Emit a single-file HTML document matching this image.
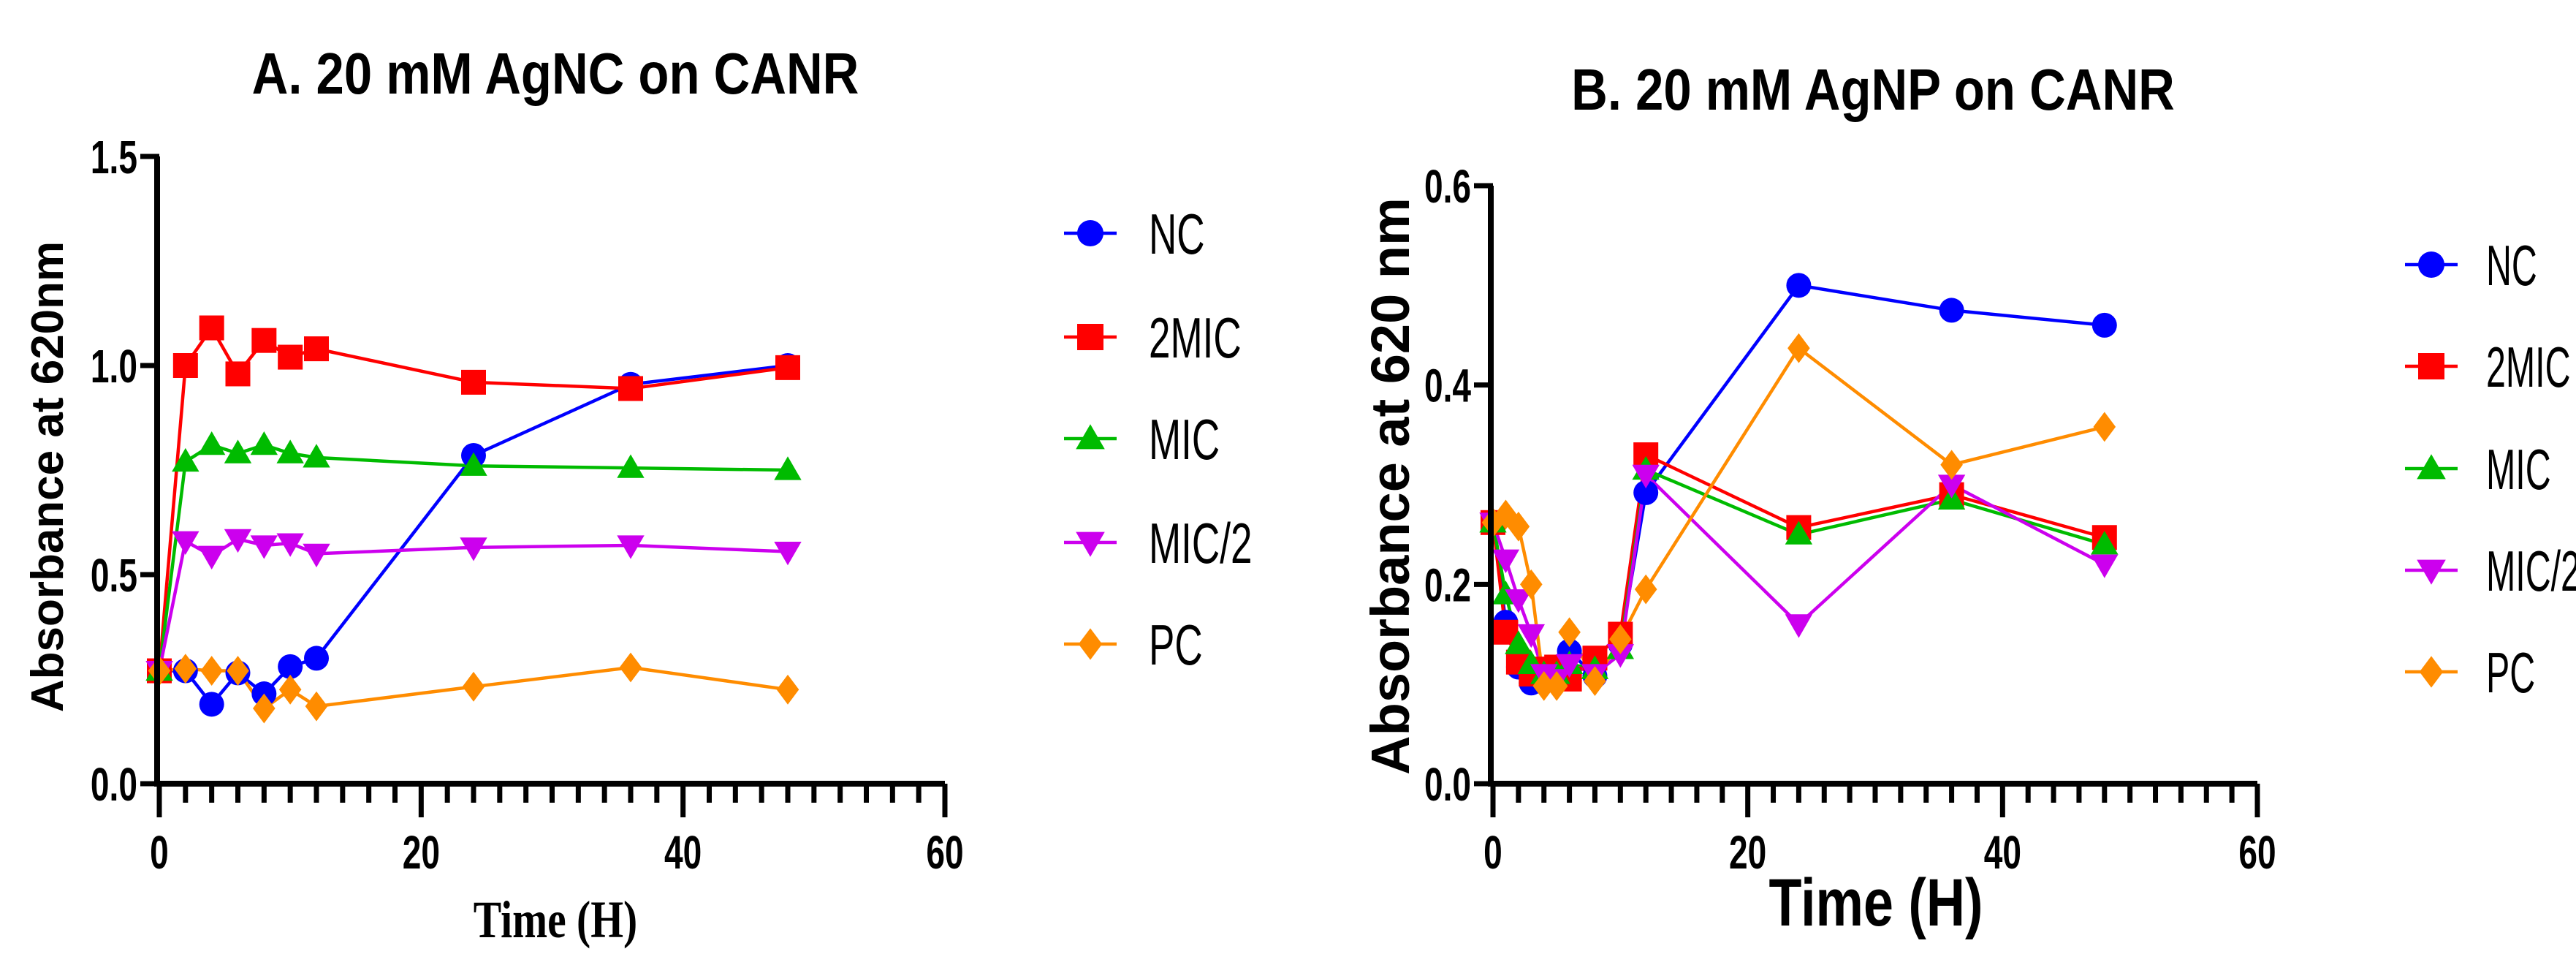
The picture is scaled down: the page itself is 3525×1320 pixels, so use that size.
<!DOCTYPE html>
<html><head><meta charset="utf-8"><style>
html,body{margin:0;padding:0;background:#fff;}
svg{display:block;}
</style></head><body>
<svg id="chart" width="3525" height="1320" viewBox="0 0 3525 1320" xmlns="http://www.w3.org/2000/svg" font-family="Liberation Sans, Arial, sans-serif">
<rect width="3525" height="1320" fill="#fff"/>
</svg>
<script>
const seriesNames = ["NC","2MIC","MIC","MIC/2","PC"];
const colors = ["#0000ff","#ff0000","#00bb00","#cc00ee","#ff8c00"];
const shapes = ["circle","square","triangle","invtri","diamond"];
const timesA = [0,2,4,6,8,10,12,24,36,48];
const ncA = [0.27,0.27,0.19,0.265,0.215,0.28,0.30,0.785,0.955,1.0];
const mic2xA = [0.27,1.0,1.09,0.98,1.06,1.02,1.04,0.96,0.945,0.995];
const micA = [0.27,0.77,0.81,0.79,0.81,0.79,0.78,0.76,0.755,0.75];
const micHalfA = [0.27,0.58,0.545,0.585,0.57,0.575,0.55,0.565,0.57,0.555];
const pcA = [0.27,0.275,0.27,0.27,0.18,0.225,0.185,0.232,0.278,0.225];
const timesB = [0,1,2,3,4,5,6,8,10,12,24,36,48];
const ncB = [0.262,0.162,0.117,0.101,0.105,0.104,0.133,0.108,0.14,0.292,0.5,0.475,0.46];
const mic2xB = [0.262,0.152,0.122,0.11,0.115,0.117,0.105,0.126,0.15,0.33,0.257,0.29,0.247];
const micB = [0.262,0.19,0.14,0.12,0.11,0.11,0.12,0.115,0.135,0.315,0.25,0.285,0.24];
const micHalfB = [0.262,0.225,0.185,0.15,0.11,0.105,0.12,0.11,0.13,0.31,0.16,0.3,0.22];
const pcB = [0.262,0.27,0.258,0.2,0.098,0.098,0.152,0.103,0.145,0.195,0.437,0.32,0.358];
const xTicks = [0,20,40,60];
const yTicksA = ["0.0","0.5","1.0","1.5"];
const yTicksB = ["0.0","0.2","0.4","0.6"];

const NS="http://www.w3.org/2000/svg";
const svg=document.getElementById('chart');
function el(tag,attrs,parent){const e=document.createElementNS(NS,tag);for(const k in attrs)e.setAttribute(k,attrs[k]);(parent||svg).appendChild(e);return e;}
function sq(x,s){return `translate(${x},0) scale(${s},1) translate(${-x},0)`;}

function marker(g,shape,x,y,r,color){
  let m;
  if(shape==="circle") m=el('circle',{cx:x,cy:y,r:r,fill:color},g);
  else if(shape==="square") m=el('rect',{x:x-r,y:y-r,width:2*r,height:2*r,fill:color},g);
  else if(shape==="triangle") m=el('polygon',{points:`${x},${y-r*1.1} ${x-r*1.1},${y+r*0.8} ${x+r*1.1},${y+r*0.8}`,fill:color},g);
  else if(shape==="invtri") m=el('polygon',{points:`${x},${y+r*1.1} ${x-r*1.1},${y-r*0.8} ${x+r*1.1},${y-r*0.8}`,fill:color},g);
  else m=el('polygon',{points:`${x},${y-r*1.2} ${x+r*0.9},${y} ${x},${y+r*1.2} ${x-r*0.9},${y}`,fill:color},g);
  return m;
}

function drawChart(cfg){
  const g=el('g',{});
  
  
  const sx=v=>cfg.x0+(v-0)/60*(cfg.x1-cfg.x0);
  const sy=v=>cfg.y0-(v/cfg.ymax)*(cfg.y0-cfg.y1);
  const t=el('text',{x:cfg.titleX,y:cfg.titleY,'text-anchor':'middle','font-size':80,'font-weight':'bold',transform:sq(cfg.titleX,0.86)},g);
  t.textContent=cfg.title;
  
  
  cfg.series.forEach((vals,i)=>{
    const pts=vals.map((v,j)=>`${sx(cfg.times[j])},${sy(v)}`).join(' ');
    const pl=el('polyline',{points:pts,fill:'none',stroke:colors[i],'stroke-width':4.5},g);
    
    
  });
  cfg.series.forEach((vals,i)=>{
    vals.forEach((v,j)=>{
      const m=marker(g,shapes[i],sx(cfg.times[j]),sy(v),17,colors[i]);
      
      
    });
  });
  const ax=el('path',{d:`M${cfg.x0-3},${cfg.y1} V${cfg.y0} H${cfg.x1}`,fill:'none',stroke:'#000','stroke-width':8},g);
  
  
  for(let v=0;v<=60;v+=2){
    const major=v%20===0;
    el('line',{x1:sx(v),x2:sx(v),y1:cfg.y0,y2:cfg.y0+(major?46:26),stroke:'#000','stroke-width':7},g);
  }
  xTicks.forEach(v=>{
    const tx=el('text',{x:sx(v),y:cfg.y0+116,'text-anchor':'middle','font-size':64,'font-weight':'bold',transform:sq(sx(v),0.72)},g);
    tx.textContent=v;
    
    
  });
  cfg.yTicks.forEach((lab,k)=>{
    const v=parseFloat(lab);
    el('line',{x1:cfg.x0-26,x2:cfg.x0,y1:sy(v),y2:sy(v),stroke:'#000','stroke-width':7},g);
    const tx=el('text',{x:cfg.x0-30,y:sy(v)+23,'text-anchor':'end','font-size':64,'font-weight':'bold',transform:sq(cfg.x0-30,0.72)},g);
    tx.textContent=lab;
    
    
  });
  const yt=el('text',{x:0,y:0,'text-anchor':'middle','font-size':cfg.yTitleSize,'font-weight':'bold',transform:`translate(${cfg.yTitleX},${cfg.yTitleY}) rotate(-90)`},g);
  yt.textContent=cfg.yTitle;
  
  
  const xt=el('text',{x:cfg.xTitleX,y:cfg.xTitleY,'text-anchor':'middle','font-size':cfg.xTitleSize,'font-weight':'bold','font-family':cfg.xTitleFont,transform:sq(cfg.xTitleX,cfg.xTitleScale)},g);
  xt.textContent="Time (H)";
  
  
  seriesNames.forEach((n,i)=>{
    const lg=el('g',{},g);
    
    
    const y=cfg.legY[i];
    el('line',{x1:cfg.legX-36,x2:cfg.legX+36,y1:y,y2:y,stroke:colors[i],'stroke-width':4.5},lg);
    marker(lg,shapes[i],cfg.legX,y,18,colors[i]);
    const lt=el('text',{x:cfg.legX+cfg.legGap,y:y+28,'font-size':78,transform:sq(cfg.legX+cfg.legGap,cfg.legScale)},lg);
    lt.textContent=n;
  });
}

drawChart({name:'chart-a',title:'A. 20 mM AgNC on CANR',titleX:760,titleY:128,
  x0:218,x1:1293,y0:1072,y1:214,ymax:1.5,times:timesA,series:[ncA,mic2xA,micA,micHalfA,pcA],yTicks:yTicksA,
  yTitle:'Absorbance at 620nm',yTitleX:86,yTitleY:652,yTitleSize:62,
  xTitleX:760,xTitleY:1282,xTitleSize:72,xTitleFont:'Liberation Serif, serif',xTitleScale:0.8,
  legX:1492,legY:[319,461,600,742,881],legGap:80,legScale:0.68});
drawChart({name:'chart-b',title:'B. 20 mM AgNP on CANR',titleX:2563,titleY:150,
  x0:2043,x1:3089,y0:1072,y1:254,ymax:0.6,times:timesB,series:[ncB,mic2xB,micB,micHalfB,pcB],yTicks:yTicksB,
  yTitle:'Absorbance at 620 nm',yTitleX:1928,yTitleY:665,yTitleSize:74,
  xTitleX:2567,xTitleY:1266,xTitleSize:92,xTitleFont:'Liberation Sans, sans-serif',xTitleScale:0.8,
  legX:3327,legY:[362,501,641,780,919],legGap:75,legScale:0.62});
</script>
</body></html>
